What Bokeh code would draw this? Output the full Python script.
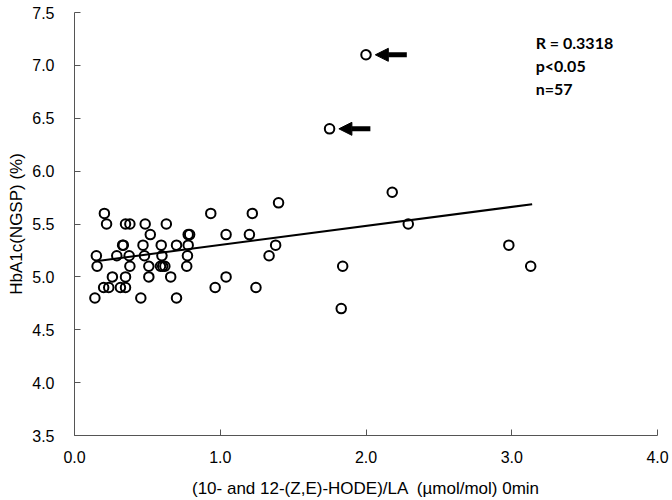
from bokeh.plotting import figure
from bokeh.models import Range1d, Arrow, NormalHead, Label, FixedTicker, CustomJSTickFormatter
from bokeh.embed import file_html
from bokeh.resources import INLINE

# --- data ---
x_vals = [0.205, 0.935, 1.22,
          0.22, 0.35, 0.38, 0.485, 0.63, 2.29,
          0.52, 0.78, 0.79, 1.04, 1.20,
          0.33, 0.335, 0.47, 0.595, 0.70, 0.78, 1.38, 2.98,
          0.15, 0.29, 0.375, 0.48, 0.60, 0.775, 1.335,
          0.155, 0.38, 0.51, 0.59, 0.605, 0.62, 0.77, 1.84, 3.13,
          0.26, 0.35, 0.51, 0.66, 1.04,
          0.20, 0.235, 0.315, 0.35, 0.965, 1.245,
          0.14, 0.455, 0.70,
          1.83, 1.40, 2.18,
          1.75, 2.00]
y_vals = [5.6, 5.6, 5.6,
          5.5, 5.5, 5.5, 5.5, 5.5, 5.5,
          5.4, 5.4, 5.4, 5.4, 5.4,
          5.3, 5.3, 5.3, 5.3, 5.3, 5.3, 5.3, 5.3,
          5.2, 5.2, 5.2, 5.2, 5.2, 5.2, 5.2,
          5.1, 5.1, 5.1, 5.1, 5.1, 5.1, 5.1, 5.1, 5.1,
          5.0, 5.0, 5.0, 5.0, 5.0,
          4.9, 4.9, 4.9, 4.9, 4.9, 4.9,
          4.8, 4.8, 4.8,
          4.7, 5.7, 5.8,
          6.4, 7.1]

fit_x = [0.145, 3.14]
fit_y = [5.148, 5.687]

flag_x = [2.00, 1.75]
flag_y = [7.1, 6.4]
arrow_tip_gap = 0.064
arrow_tail_gap = 0.28

stats_lines = ["R = 0.3318", "p<0.05", "n=57"]
stats_y = [7.216, 6.995, 6.781]
stats_x = 3.164

x_ticks = [0, 1, 2, 3, 4]
y_ticks = [3.5, 4.0, 4.5, 5.0, 5.5, 6.0, 6.5, 7.0, 7.5]

x_label = "(10- and 12-(Z,E)-HODE)/LA \u00a0(\u00b5mol/mol) 0min"
y_label = "HbA1c(NGSP) (%)"

p = figure(frame_width=583, frame_height=423,
           min_border_left=74, min_border_top=12, min_border_right=15, min_border_bottom=65,
           x_range=Range1d(0, 4), y_range=Range1d(3.5, 7.5),
           output_backend="svg", toolbar_location=None)
p.outline_line_color = None
p.grid.visible = False
p.background_fill_color = "white"
p.border_fill_color = "white"

fmt = CustomJSTickFormatter(code="return tick.toFixed(1);")
for ax, ticks in ((p.xaxis[0], x_ticks), (p.yaxis[0], y_ticks)):
    ax.ticker = FixedTicker(ticks=ticks)
    ax.formatter = fmt
    ax.axis_line_color = "#555555"
    ax.axis_line_width = 1
    ax.major_tick_line_color = "#555555"
    ax.major_tick_in = 6
    ax.major_tick_out = 0
    ax.minor_tick_line_color = None
    ax.major_label_text_font = "Liberation Sans"
    ax.major_label_text_font_size = "16px"
    ax.major_label_text_color = "black"
    ax.axis_label_text_font = "Liberation Sans"
    ax.axis_label_text_font_size = "17px"
    ax.axis_label_text_font_style = "normal"
    ax.axis_label_text_color = "black"

p.xaxis[0].axis_label = x_label
p.xaxis[0].major_label_standoff = 15
p.xaxis[0].axis_label_standoff = 13
p.yaxis[0].axis_label = y_label
p.yaxis[0].major_label_standoff = 20
p.yaxis[0].axis_label_standoff = 3

p.line(fit_x, fit_y, line_color="black", line_width=2)
p.scatter(x_vals, y_vals, marker="circle", size=9.5, fill_alpha=0,
          line_color="black", line_width=2)

for fx, fy in zip(flag_x, flag_y):
    p.add_layout(Arrow(end=NormalHead(size=13, fill_color="black", line_color="black", line_width=1),
                       x_start=fx + arrow_tail_gap, y_start=fy,
                       x_end=fx + arrow_tip_gap, y_end=fy,
                       line_color="black", line_width=5))

for txt, ty in zip(stats_lines, stats_y):
    p.add_layout(Label(x=stats_x, y=ty, text=txt, text_font="Lato", text_font_style="bold",
                       text_font_size="16px", text_color="black", text_baseline="alphabetic"))

open("out.html", "w").write(file_html(p, INLINE))
